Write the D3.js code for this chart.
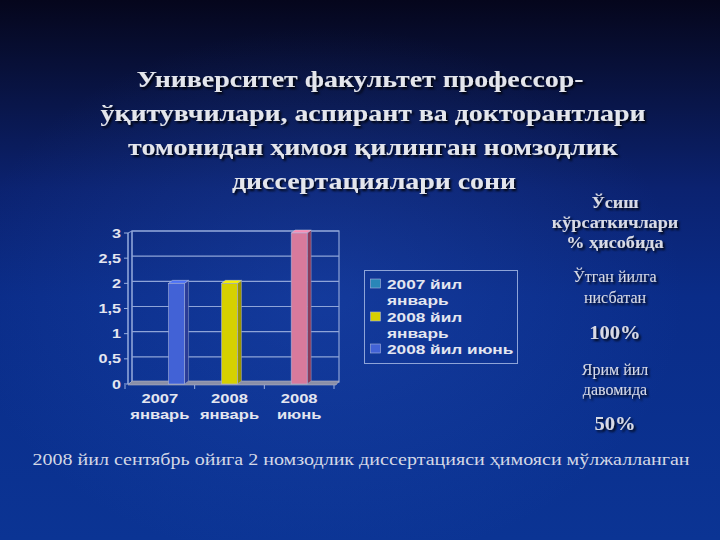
<!DOCTYPE html>
<html><head><meta charset="utf-8">
<script src="https://cdn.jsdelivr.net/npm/d3@7"></script>
<style>html,body{margin:0;padding:0;background:#0c1c5a;}svg{display:block;}</style>
</head><body><svg id="c" width="720" height="540"></svg>
<script>
const categories = [["2007","январь"],["2008","январь"],["2008","июнь"]];
const seriesNames = ["2007 йил январь","2008 йил январь","2008 йил июнь"];
const legendLines = [["2007 йил","январь"],["2008 йил","январь"],["2008 йил июнь"]];
const series2007Jan = [0, 0, 0];
const series2008Jan = [0, 2, 3];
const series2008Jun = [2, 0, 0];
const yTicks = [0, 0.5, 1, 1.5, 2, 2.5, 3];
const titleLines = ["Университет факультет профессор-","ўқитувчилари, аспирант ва докторантлари","томонидан ҳимоя қилинган номзодлик","диссертациялари сони"];
const sideText = [
  {t:"Ўсиш", k:"h"},{t:"кўрсаткичлари", k:"h"},{t:"% ҳисобида", k:"h"},
  {t:"Ўтган йилга", k:"n"},{t:"нисбатан", k:"n"},{t:"100%", k:"p"},
  {t:"Ярим йил", k:"n"},{t:"давомида", k:"n"},{t:"50%", k:"p"}];
const footnote = "2008 йил сентябрь ойига 2 номзодлик диссертацияси ҳимояси мўлжалланган";

const seriesColors = ["#2a86b8","#d6d000","#4262d6"];
const seriesSide = ["#1a5a80","#9a9400","#2a3c98"];
const pointColors = {"1-2":"#d87a9c"};
const pointSide = {"1-2":"#8a3a5a"};

const svg = d3.select("#c");
const defs = svg.append("defs");
const bg = defs.append("linearGradient").attr("id","bg").attr("x1",0).attr("y1",0).attr("x2",0).attr("y2",1);
bg.append("stop").attr("offset","0").attr("stop-color","#05061c");
bg.append("stop").attr("offset","0.12").attr("stop-color","#081038");
bg.append("stop").attr("offset","0.35").attr("stop-color","#0b2270");
bg.append("stop").attr("offset","0.55").attr("stop-color","#0a2c88");
bg.append("stop").attr("offset","1").attr("stop-color","#0b3494");
const rg = defs.append("radialGradient").attr("id","rg").attr("cx","0.45").attr("cy","0.55").attr("r","0.5");
rg.append("stop").attr("offset","0").attr("stop-color","#2a5ac8").attr("stop-opacity",0.3);
rg.append("stop").attr("offset","1").attr("stop-color","#2a5ac8").attr("stop-opacity",0);
const sh = defs.append("filter").attr("id","sh").attr("x","-5%").attr("y","-20%").attr("width","110%").attr("height","140%");
sh.append("feDropShadow").attr("dx",2).attr("dy",2).attr("stdDeviation",0.8).attr("flood-color","#000").attr("flood-opacity",0.85);

svg.append("rect").attr("width",720).attr("height",540).attr("fill","url(#bg)");
svg.append("rect").attr("width",720).attr("height",540).attr("fill","url(#rg)");

const SERIF = "Liberation Serif, Times New Roman, serif";
const SANS = "Liberation Sans, Arial, sans-serif";

// Title
const titleY = [87,121,155,189];
const titleX = [360,373,373,374];
svg.append("g").attr("filter","url(#sh)").selectAll("text").data(titleLines).join("text")
  .attr("transform",(d,i)=>`translate(${titleX[i]},${titleY[i]}) scale(1.16,1)`)
  .attr("text-anchor","middle").attr("font-family",SERIF)
  .attr("font-weight","bold").attr("font-size",24).attr("fill","#e4e6ec").text(d=>d);

// Chart
const y = d3.scaleLinear().domain([0,3]).range([384,233]);
const x0 = d3.scaleBand().domain(d3.range(categories.length)).range([125,334]);
const x1 = d3.scaleBand().domain(d3.range(seriesNames.length)).range([0,x0.bandwidth()]).paddingInner(0.03).paddingOuter(0.6);
const barW = 16, dep = 4;
const g = svg.append("g");
g.append("rect").attr("x",132).attr("y",y(3)-2).attr("width",339-132).attr("height",y(0)-y(3)).attr("fill","none").attr("stroke","#8ea4d8").attr("stroke-width",1.2);
g.selectAll("line.grid").data(yTicks).join("line").attr("class","grid")
  .attr("x1",132).attr("x2",339).attr("y1",d=>y(d)-2).attr("y2",d=>y(d)-2)
  .attr("stroke","#8ea4d8").attr("stroke-width",1.1);
g.append("path").attr("d",`M128,${y(0)} L132,${y(0)-2} L132,${y(3)-2} L128,${y(3)} Z`).attr("fill","none").attr("stroke","#8ea4d8").attr("stroke-width",1);
g.append("path").attr("d",`M128,${y(0)+1} L132,${y(0)-3} L339,${y(0)-3} L336,${y(0)+1} Z`).attr("fill","#8a8fa8").attr("stroke","#b0b4c8").attr("stroke-width",0.6);
g.append("line").attr("x1",128).attr("x2",128).attr("y1",y(0)).attr("y2",y(3)).attr("stroke","#9ab0e0");
g.selectAll("line.tk").data(yTicks).join("line").attr("class","tk").attr("x1",124).attr("x2",128).attr("y1",d=>y(d)).attr("y2",d=>y(d)).attr("stroke","#9ab0e0");
g.selectAll("text.yl").data(yTicks).join("text").attr("class","yl")
  .attr("transform",d=>`translate(121,${y(d)+4.5}) scale(1.35,1)`).attr("text-anchor","end")
  .attr("font-family",SANS).attr("font-weight","bold").attr("font-size",12)
  .attr("fill","#e4e6f0").text(d=>String(d).replace(".",","));
g.selectAll("line.xt").data(d3.range(categories.length+1)).join("line").attr("class","xt")
  .attr("x1",d=>125+d*x0.step()).attr("x2",d=>125+d*x0.step()).attr("y1",y(0)+1).attr("y2",y(0)+5).attr("stroke","#9ab0e0");
categories.forEach((d,i)=>{
  d.forEach((e,j)=>{
    g.append("text").attr("transform",`translate(${x0(i)+x0.bandwidth()/2},${403+j*16}) scale(1.38,1)`)
      .attr("text-anchor","middle").attr("font-family",SANS).attr("font-weight","bold").attr("font-size",12).attr("fill","#e4e6f0").text(e);
  });
});
const allSeries = [series2007Jan, series2008Jan, series2008Jun];
const bars = [];
allSeries.forEach((vals,s)=>vals.forEach((v,c)=>{ if(v>0) bars.push({s,c,v}); }));
const bg2 = g.append("g");
bars.forEach(b=>{
  const cx = x0(b.c)+x1(b.s)+x1.bandwidth()/2;
  const xl = cx-barW/2, yt = y(b.v), yb = y(0);
  const key = b.s+"-"+b.c;
  const front = pointColors[key]||seriesColors[b.s];
  const side = pointSide[key]||seriesSide[b.s];
  bg2.append("path").attr("d",`M${xl+barW},${yb} L${xl+barW+dep},${yb-3} L${xl+barW+dep},${yt-3} L${xl+barW},${yt} Z`).attr("fill",side).attr("stroke","#9aa8d0").attr("stroke-width",0.5);
  bg2.append("path").attr("d",`M${xl},${yt} L${xl+dep},${yt-3} L${xl+barW+dep},${yt-3} L${xl+barW},${yt} Z`).attr("fill",d3.color(front).brighter(0.4)).attr("stroke","#c0c8e0").attr("stroke-width",0.5);
  bg2.append("rect").attr("x",xl).attr("y",yt).attr("width",barW).attr("height",yb-yt).attr("fill",front).attr("stroke","#a8b4dc").attr("stroke-width",0.6);
});
// legend
const lg = svg.append("g");
lg.append("rect").attr("x",364.5).attr("y",270.5).attr("width",153).attr("height",93).attr("fill","none").attr("stroke","#8ea4d8").attr("stroke-width",1);
const legY = [289,322,354];
legendLines.forEach((lines,i)=>{
  lg.append("rect").attr("x",370.5).attr("y",legY[i]-10).attr("width",10).attr("height",9).attr("fill",seriesColors[i]).attr("stroke","#a8b4dc").attr("stroke-width",0.6);
  lines.forEach((e,j)=>{
    lg.append("text").attr("transform",`translate(387,${legY[i]+j*16}) scale(1.38,1)`)
      .attr("font-family",SANS).attr("font-weight","bold").attr("font-size",12.5).attr("fill","#e4e6f0").text(e);
  });
});
// side text
const sideY = [208,228,248,282,303,339,375,395,430];
const sideStyle = {h:{w:"bold",s:17,k:1.07},n:{w:"normal",s:16,k:1},p:{w:"bold",s:18,k:1.14}};
svg.append("g").attr("filter","url(#sh)").selectAll("text").data(sideText).join("text")
  .attr("transform",(d,i)=>`translate(615,${sideY[i]}) scale(${sideStyle[d.k].k},1)`).attr("text-anchor","middle")
  .attr("font-family",SERIF).attr("font-weight",d=>sideStyle[d.k].w)
  .attr("font-size",d=>sideStyle[d.k].s).attr("fill","#d8dae4").text(d=>d.t);
// footnote
svg.append("text").attr("transform","translate(361,465) scale(1.145,1)").attr("text-anchor","middle")
  .attr("font-family",SERIF).attr("font-size",17.5).attr("fill","#d4d8e6").text(footnote);
</script></body></html>
